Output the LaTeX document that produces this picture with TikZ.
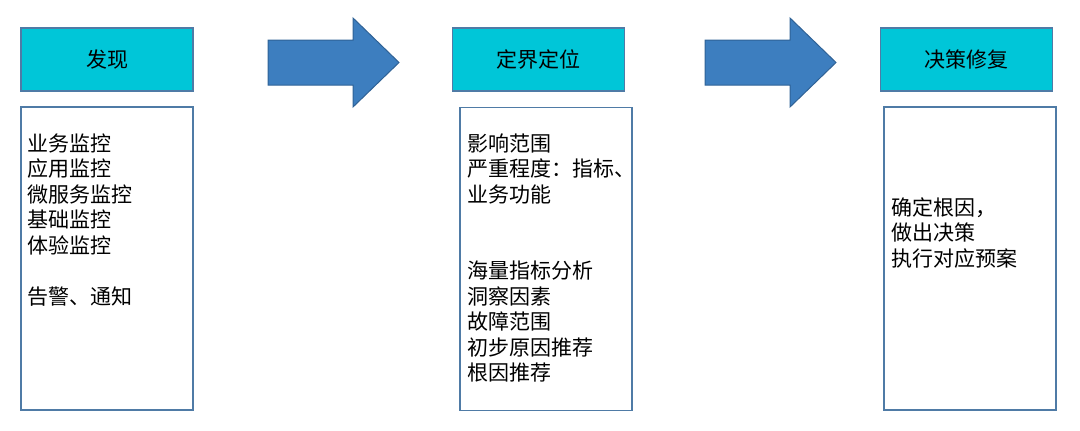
\documentclass[tikz,border=0pt]{standalone}
\usepackage{fontspec}
\setmainfont{Noto Sans CJK SC}
\usetikzlibrary{positioning}
\definecolor{ccyan}{HTML}{00C6D8}
\definecolor{cedge}{HTML}{4F7BA6}
\definecolor{carrow}{HTML}{3D7EBF}
\definecolor{carrowedge}{HTML}{2F6296}
\tikzset{
  every picture/.style={line width=1.2pt},
  head/.style={draw=cedge, fill=ccyan, minimum width=172pt, minimum height=63pt, inner sep=0pt,
    font=\fontsize{21}{25.5}\selectfont},
  panel/.style={draw=cedge, fill=white, minimum width=172pt, minimum height=303pt, inner sep=0pt},
  items/.style={align=left, anchor=north west, inner sep=0pt, font=\fontsize{21}{25.5}\selectfont},
  bigarrow/.style={draw=carrowedge, fill=carrow, line width=1pt},
}
\begin{document}
\begin{tikzpicture}[x=1pt, y=-1pt]
  \useasboundingbox (0,0) rectangle (1080,431);
  % stage titles
  \node[head] (h1) at (107,59.5) {发现};
  \node[head] (h2) at (538.5,59.5) {定界定位};
  \node[head] (h3) at (966.5,59.5) {决策修复};
  % content panels
  \node[panel] (p1) at (107,258.5) {};
  \node[panel] (p2) at (546,259) {};
  \node[panel] (p3) at (970,258.5) {};
  % block arrows between the stages
  \foreach \x in {268, 705} {
    \filldraw[bigarrow] (\x,40) -- (\x+85,40) -- (\x+85,18) -- (\x+131,62.5)
      -- (\x+85,107) -- (\x+85,85) -- (\x,85) -- cycle;
  }
  % texts
  \node[items] (t1) at (27,133) {业务监控\\应用监控\\微服务监控\\基础监控\\体验监控\\[25.5pt]告警、通知};
  \node[items] (t2) at (467,133) {影响范围\\严重程度：指标、\\业务功能\\[51pt]海量指标分析\\洞察因素\\故障范围\\初步原因推荐\\根因推荐};
  \node[items] (t3) at (891,197) {确定根因，\\做出决策\\执行对应预案};
\end{tikzpicture}
\end{document}
